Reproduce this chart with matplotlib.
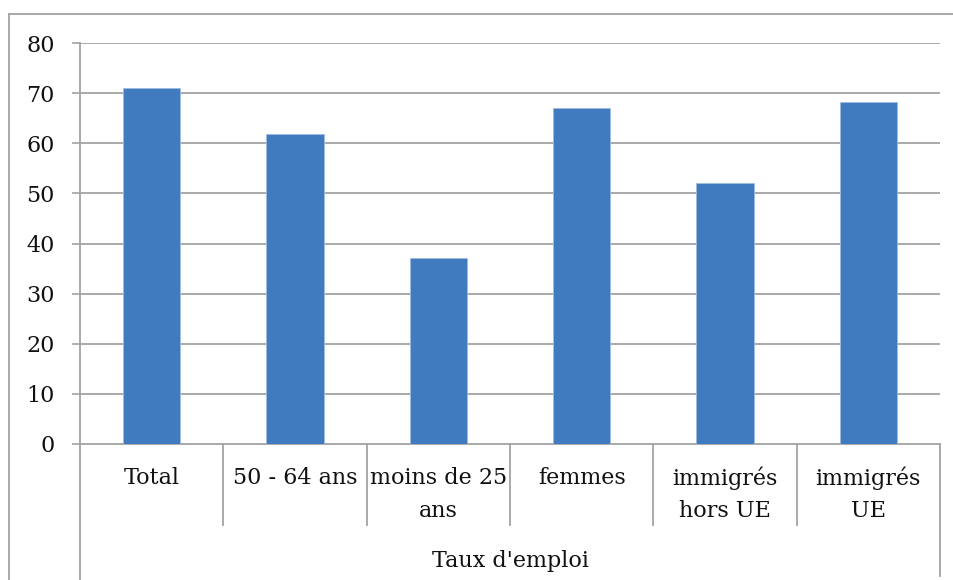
import matplotlib.pyplot as plt
import matplotlib.transforms as mtransforms
from matplotlib.lines import Line2D

# Donnees
categories = ['Total', '50 - 64 ans', 'moins de 25\nans', 'femmes',
              'immigrés\nhors UE', 'immigrés\nUE']
valeurs = [71.0, 61.8, 37.2, 67.0, 52.1, 68.2]
groupe = "Taux d'emploi"
yticks = [0, 10, 20, 30, 40, 50, 60, 70, 80]

plt.rcParams['font.family'] = 'DejaVu Serif'
BLEU = '#3F7BBE'
GRIS = '#A3A3A3'
TXT = '#111111'
FS = 16

W, H = 954, 580
fig = plt.figure(figsize=(W / 100, H / 100), dpi=100)
ax = fig.add_axes([80 / W, (H - 444) / H, (940 - 80) / W, (444 - 43) / H])

x = list(range(len(categories)))
ax.bar(x, valeurs, width=0.4, color=BLEU, edgecolor='#9DBCE0', linewidth=0.6, zorder=3)

ax.set_xlim(-0.5, len(categories) - 0.5)
ax.set_ylim(0, 80)
ax.set_yticks(yticks)
ax.tick_params(axis='y', length=6, width=1.2, color=GRIS, pad=12, labelsize=FS,
               labelcolor=TXT)
ax.set_xticks([])
for yv in yticks[1:]:
    ax.axhline(yv, color=GRIS, lw=1.3, zorder=1)

for s in ['top', 'right']:
    ax.spines[s].set_visible(False)
for s in ['left', 'bottom']:
    ax.spines[s].set_color(GRIS)
    ax.spines[s].set_linewidth(1.3)

# Axe des categories a deux niveaux
trans = mtransforms.blended_transform_factory(ax.transData, ax.transAxes)
px = 1 / (444 - 43)
for i in range(1, len(categories)):
    ax.add_line(Line2D([i - 0.5, i - 0.5], [0, -(525 - 444) * px], color=GRIS, lw=1.3,
                       transform=trans, clip_on=False))
ax.add_line(Line2D([-0.5, -0.5], [0, -(600 - 444) * px], color=GRIS, lw=1.3,
                   transform=trans, clip_on=False))
ax.add_line(Line2D([len(categories) - 0.5] * 2, [0, -(576 - 444) * px], color=GRIS, lw=1.3,
                   transform=trans, clip_on=False))

for i, lab in enumerate(categories):
    for j, ligne in enumerate(lab.split('\n')):
        ax.text(i, -(478 + 33 * j - 444) * px, ligne, transform=trans, ha='center',
                va='center', fontsize=FS, color=TXT)

ax.text(0.5, -(561 - 444) * px, groupe, transform=ax.transAxes, ha='center', va='center',
        fontsize=FS, color=TXT)

# Cadre exterieur
fig.add_artist(Line2D([9 / W, 9 / W], [0, (H - 14) / H], color=GRIS, lw=1.3))
fig.add_artist(Line2D([9 / W, 1], [(H - 14) / H, (H - 14) / H], color=GRIS, lw=1.3))

fig.savefig('out.png', dpi=100)
